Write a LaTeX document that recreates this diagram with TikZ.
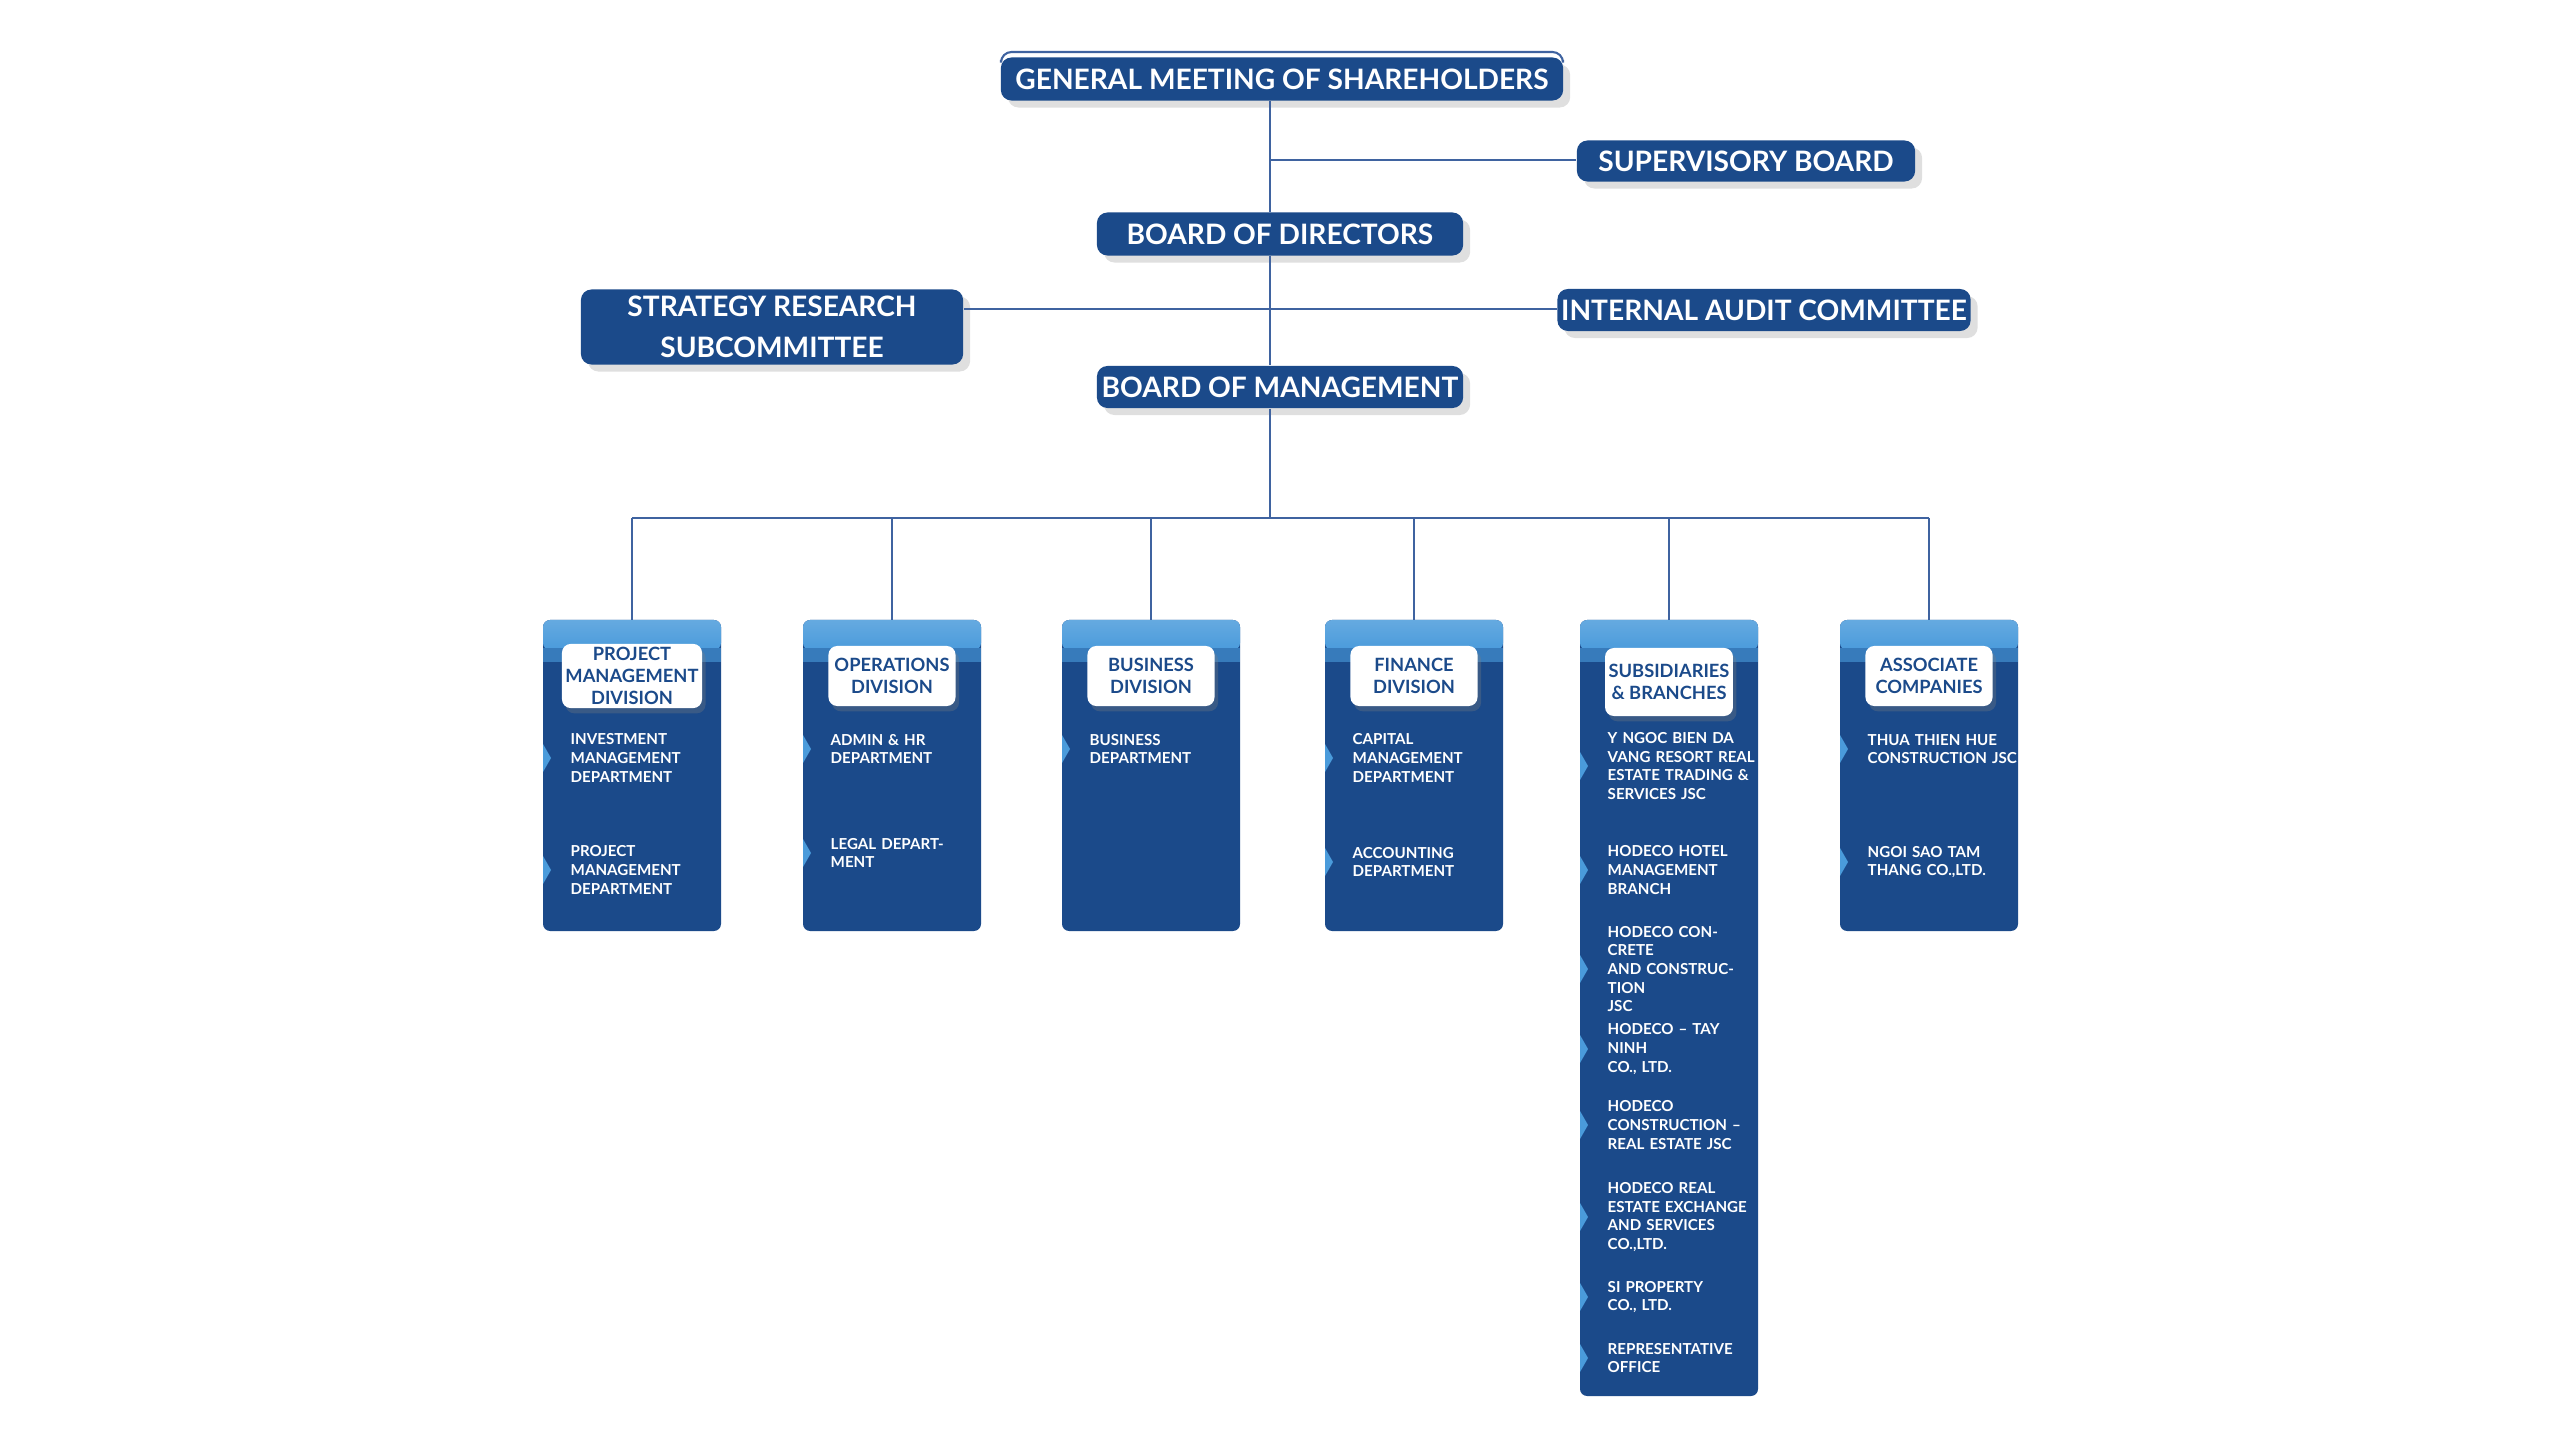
\documentclass[tikz,border=0pt]{standalone}
\usepackage{fontspec}
\setmainfont{Lato}
\usetikzlibrary{shadows}
\definecolor{dblue}{HTML}{1B4A8A}
\definecolor{lblue}{HTML}{4A9BDB}
\definecolor{lineblue}{HTML}{3F63A0}
\begin{document}
\begin{tikzpicture}[x=0.01cm,y=-0.01cm,
  top/.style={fill=dblue,rounded corners=3pt,text=white,font=\bfseries\fontsize{8}{10}\selectfont,
    drop shadow={shadow xshift=2pt,shadow yshift=-2pt,opacity=0.25},inner sep=0pt},
  ttl/.style={fill=white,rounded corners=2.5pt,text=dblue,font=\bfseries\fontsize{5.2}{6.2}\selectfont,
    align=center,minimum width=1.27cm,minimum height=0.6cm,inner sep=1pt,
    drop shadow={shadow xshift=1pt,shadow yshift=-1.5pt,opacity=0.3}},
  item/.style={text=white,font=\bfseries\fontsize{4.3}{5.3}\selectfont,align=left,anchor=west,inner sep=0pt,text width=1.5cm},
  conn/.style={draw=lineblue,line width=0.6pt}]
\useasboundingbox (0,0) rectangle (2560,1440);
% top boxes
\draw[lineblue,line width=0.6pt,rounded corners=3pt] (1001,60) -- (1001,52) -- (1563,52) -- (1563,60);
\node[top,minimum width=5.62cm,minimum height=0.43cm] (gms) at (1282,79) {GENERAL MEETING OF SHAREHOLDERS};
\node[top,minimum width=3.38cm,minimum height=0.41cm] (sup) at (1746,161) {SUPERVISORY BOARD};
\node[top,minimum width=3.66cm,minimum height=0.43cm] (bod) at (1280,234) {BOARD OF DIRECTORS};
\node[top,minimum width=3.82cm,minimum height=0.75cm,align=center,font=\bfseries\fontsize{8}{11.5}\selectfont] (str) at (772,327) {STRATEGY RESEARCH\\SUBCOMMITTEE};
\node[top,minimum width=4.13cm,minimum height=0.42cm] (aud) at (1764,310) {INTERNAL AUDIT COMMITTEE};
\node[top,minimum width=3.66cm,minimum height=0.42cm] (bom) at (1280,387) {BOARD OF MANAGEMENT};
\coordinate (m1) at (1270,160);
\coordinate (m2) at (1270,309);
\coordinate (bus) at (1270,518);
\draw[conn] (gms.south -| m1) -- (bod.north -| m1);
\draw[conn] (m1) -- (sup.west |- m1);
\draw[conn] (bod.south -| m1) -- (bom.north -| m1);
\draw[conn] (str.east |- m2) -- (aud.west |- m2);
\draw[conn] (bom.south -| m1) -- (bus);
% columns
\foreach \n/\x/\b in {c1/632/931,c2/892/931,c3/1151/931,c4/1414/931,c5/1669/1396,c6/1929/931}{
  \fill[dblue,rounded corners=2pt] (\x-89,620) rectangle (\x+89,\b);
  \shade[top color=lblue!85!white,bottom color=lblue,rounded corners=2pt] (\x-89,620) rectangle (\x+89,650);
  \fill[lblue!60!dblue] (\x-89,648) rectangle (\x+89,662);
  \coordinate (\n) at (\x,620);
}
\draw[conn] (c1 |- bus) -- (c6 |- bus);
\foreach \n in {c1,c2,c3,c4,c5,c6}{\draw[conn] (\n |- bus) -- (\n);}
\node[ttl] (t1) at (632,676) {PROJECT\\MANAGEMENT\\DIVISION};
\node[ttl] (t2) at (892,676) {OPERATIONS\\DIVISION};
\node[ttl] (t3) at (1151,676) {BUSINESS\\DIVISION};
\node[ttl] (t4) at (1414,676) {FINANCE\\DIVISION};
\node[ttl,minimum height=0.68cm] (t5) at (1669,682) {SUBSIDIARIES\\\& BRANCHES};
\node[ttl] (t6) at (1929,676) {ASSOCIATE\\COMPANIES};
% items
\newcommand{\itm}[4]{%
  \fill[lblue] (#1-89,#2-14) -- (#1-81,#2) -- (#1-89,#2+14) -- cycle;
  \node[item] (#3) at (#1-62,#2) {#4};}
\itm{632}{758}{i11}{INVESTMENT\\MANAGEMENT\\DEPARTMENT}
\itm{632}{870}{i12}{PROJECT\\MANAGEMENT\\DEPARTMENT}
\itm{892}{749}{i21}{ADMIN \& HR\\DEPARTMENT}
\itm{892}{853}{i22}{LEGAL DEPARTMENT}
\itm{1151}{749}{i31}{BUSINESS\\DEPARTMENT}
\itm{1414}{758}{i41}{CAPITAL\\MANAGEMENT\\DEPARTMENT}
\itm{1414}{862}{i42}{ACCOUNTING\\DEPARTMENT}
\itm{1669}{766}{i51}{Y NGOC BIEN DA\\VANG RESORT REAL\\ESTATE TRADING \&\\SERVICES JSC}
\itm{1669}{870}{i52}{HODECO HOTEL\\MANAGEMENT\\BRANCH}
\itm{1669}{969}{i53}{HODECO CONCRETE\\AND CONSTRUCTION\\JSC}
\itm{1669}{1049}{i54}{HODECO – TAY NINH\\CO., LTD.}
\itm{1669}{1125}{i55}{HODECO\\CONSTRUCTION –\\REAL ESTATE JSC}
\itm{1669}{1217}{i56}{HODECO REAL\\ESTATE EXCHANGE\\AND SERVICES\\CO.,LTD.}
\itm{1669}{1297}{i57}{SI PROPERTY\\CO., LTD.}
\itm{1669}{1358}{i58}{REPRESENTATIVE\\OFFICE}
\itm{1929}{749}{i61}{THUA THIEN HUE\\CONSTRUCTION JSC}
\itm{1929}{862}{i62}{NGOI SAO TAM\\THANG CO.,LTD.}
\end{tikzpicture}
\end{document}
